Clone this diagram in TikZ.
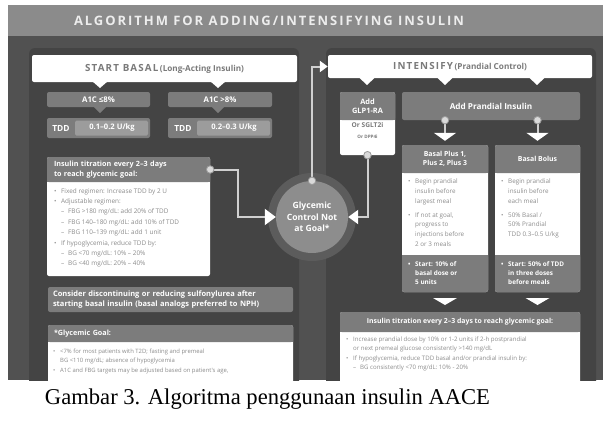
\documentclass[tikz,border=0pt]{standalone}
\usepackage{fontspec}
\setmainfont{Liberation Serif}
\newfontfamily\osans{Open Sans}
\newfontfamily\ospaced{Open Sans}[LetterSpace=15]
\newfontfamily\ospacedhead{Open Sans}[LetterSpace=12]
\usetikzlibrary{arrows.meta,calc}

\definecolor{figbg}{HTML}{515151}
\definecolor{panelbg}{HTML}{444444}
\definecolor{titlebar}{HTML}{8B8B8B}
\definecolor{titletxt}{HTML}{EDEDED}
\definecolor{boxgray}{HTML}{7C7C7C}
\definecolor{valgray}{HTML}{9C9C9C}
\definecolor{txtgray}{HTML}{8C8C8C}
\definecolor{headtxt}{HTML}{7A7A7A}
\definecolor{wirecol}{HTML}{D0D0D0}
\definecolor{dotfill}{HTML}{DADADA}
\definecolor{dotline}{HTML}{9A9A9A}
\definecolor{goalfill}{HTML}{8D8D8D}
\definecolor{goalhalo}{HTML}{5C5C5C}

% bullet helpers for the hand-set lists
\newcommand\bmark{\makebox[7pt][l]{•}}
\newcommand\hmark{\hspace*{7pt}}
\newcommand\smark{\hspace*{7pt}\makebox[7pt][l]{–}}

\begin{document}
\begin{tikzpicture}[x=1pt,y=-1pt,
  wbox/.style={fill=white, rounded corners=2pt, inner sep=0pt},
  gbox/.style={fill=boxgray, rounded corners=2pt, inner sep=0pt, text=white,
    font=\osans\bfseries\fontsize{7.2}{9.6}\selectfont, align=center},
  bodytxt/.style={text=txtgray, font=\osans\fontsize{6.3}{9.6}\selectfont,
    align=left, anchor=north west, inner sep=0pt},
  foottxt/.style={text=white, font=\osans\bfseries\fontsize{6.4}{9.2}\selectfont,
    align=left, anchor=north west, inner sep=0pt},
  wire/.style={draw=wirecol, line width=2pt},
  hub/.style={circle, fill=dotfill, draw=dotline, line width=0.8pt,
    minimum size=7.5pt, inner sep=0pt},
]
\useasboundingbox (0,0) rectangle (606,434);
\fill[white] (0,0) rectangle (606,434);

\begin{scope}
\clip (8,5) rectangle (603,380);
% backdrop, panels and title strip
\fill[figbg] (8,5) rectangle (603,380);
\fill[panelbg, rounded corners=6pt] (29,48) rectangle (299,400);
\fill[panelbg, rounded corners=6pt] (326,48) rectangle (596,400);
\fill[titlebar] (8,5) rectangle (603,36);
\node[text=titletxt, font=\ospaced\bfseries\fontsize{13}{15}\selectfont]
  (title) at (269,21) {ALGORITHM FOR ADDING/INTENSIFYING INSULIN};

% ---------------- START BASAL ----------------
\node[wbox, minimum width=265pt, minimum height=27pt, text=headtxt]
  (basal) at (164.5,68.5)
  {{\ospacedhead\bfseries\fontsize{9.8}{11}\selectfont START BASAL}\,{\osans\bfseries\fontsize{8.2}{10}\selectfont (Long-Acting Insulin)}};
\foreach \nx in {100,218}
  \fill[white] (\nx-8,81) -- (\nx+8,81) -- (\nx,88) -- cycle;

\node[gbox, minimum width=103pt, minimum height=15pt,
  font=\osans\bfseries\fontsize{7.8}{9}\selectfont] (a1clo) at (98.5,99.5) {A1C ≤8\%};
\node[gbox, minimum width=104pt, minimum height=15pt,
  font=\osans\bfseries\fontsize{7.8}{9}\selectfont] (a1chi) at (220,99.5) {A1C >8\%};
\foreach \nx in {100,218}
  \fill[boxgray] (\nx-7,106) -- (\nx+7,106) -- (\nx,113) -- cycle;

\node[gbox, minimum width=103pt, minimum height=20pt] (tddlo) at (98.5,128) {};
\fill[valgray, rounded corners=1.5pt] (75,120.5) rectangle (148,135.5);
\node[text=white, font=\osans\bfseries\fontsize{8.4}{10}\selectfont] (tddlolab) at (61,128) {TDD};
\node[text=white, font=\osans\bfseries\fontsize{7.6}{10}\selectfont] (tddloval) at (112,128) {0.1–0.2 U/kg};

\node[gbox, minimum width=104pt, minimum height=20pt] (tddhi) at (220,128) {};
\fill[valgray, rounded corners=1.5pt] (197,120.5) rectangle (270,135.5);
\node[text=white, font=\osans\bfseries\fontsize{8.4}{10}\selectfont] (tddhilab) at (183,128) {TDD};
\node[text=white, font=\osans\bfseries\fontsize{7.6}{10}\selectfont] (tddhival) at (234,128) {0.2–0.3 U/kg};

% titration card
\node[wbox, minimum width=163pt, minimum height=119pt] (titlbody) at (128.5,216.5) {};
\node[gbox, text width=149pt, inner xsep=7pt, minimum height=25pt, align=left]
  (titlhead) at (128.5,169.5) {Insulin titration every 2–3 days\\to reach glycemic goal:};
\fill[boxgray] (47,179) rectangle (210,182);
\node[bodytxt, font=\osans\fontsize{6.4}{10.4}\selectfont] (titltxt) at (54,188)
  {\bmark Fixed regimen: Increase TDD by 2 U\\
   \bmark Adjustable regimen:\\
   \smark FBG >180 mg/dL: add 20\% of TDD\\
   \smark FBG 140–180 mg/dL: add 10\% of TDD\\
   \smark FBG 110–139 mg/dL: add 1 unit\\
   \bmark If hypoglycemia, reduce TDD by:\\
   \smark BG <70 mg/dL: 10\% – 20\%\\
   \smark BG <40 mg/dL: 20\% – 40\%};

\node[gbox, text width=235pt, inner xsep=5pt, minimum height=25pt, align=left,
  font=\osans\bfseries\fontsize{7.5}{10}\selectfont] (sulfo) at (170.5,299.5)
  {Consider discontinuing or reducing sulfonylurea after\\starting basal insulin (basal analogs preferred to NPH)};

% glycemic goal card
\node[wbox, minimum width=245pt, minimum height=70pt] (gbody) at (170.5,360) {};
\node[gbox, text width=233pt, inner xsep=6pt, minimum height=17pt, align=left,
  font=\osans\bfseries\fontsize{7.2}{9}\selectfont] (ghead) at (170.5,333.5) {*Glycemic Goal:};
\fill[boxgray] (48,339) rectangle (293,342);
\node[bodytxt, font=\osans\fontsize{5.9}{8.8}\selectfont] (gtxt) at (53,349)
  {\bmark <7\% for most patients with T2D; fasting and premeal\\
   \hmark BG <110 mg/dL; absence of hypoglycemia\\[1.5pt]
   \bmark A1C and FBG targets may be adjusted based on patient's age,};

% ---------------- centre ----------------
\fill[goalhalo] (312,217) circle (44);
\node[circle, fill=goalfill, minimum size=72pt, inner sep=0pt, text=white,
  font=\osans\bfseries\fontsize{8.6}{11.5}\selectfont, align=center]
  (goal) at (312,217) {Glycemic\\Control Not\\at Goal*};

% ---------------- INTENSIFY ----------------
\node[wbox, minimum width=264pt, minimum height=23pt, text=headtxt]
  (intens) at (460,66.5)
  {{\ospacedhead\bfseries\fontsize{9.8}{11}\selectfont INTENSIFY}\,{\osans\bfseries\fontsize{8.2}{10}\selectfont (Prandial Control)}};
\foreach \nx in {367,445,537}
  \fill[white] (\nx-8,77.5) -- (\nx+8,77.5) -- (\nx,85) -- cycle;

% GLP1-RA card
\node[wbox, minimum width=55pt, minimum height=63pt] (glpb) at (367.5,123.5) {};
\node[gbox, minimum width=55pt, minimum height=28pt,
  font=\osans\bfseries\fontsize{7.4}{9.5}\selectfont] (glph) at (367.5,106) {Add\\GLP1-RA};
\fill[boxgray] (340,117) rectangle (395,120);
\node[text=headtxt, align=center, inner sep=0pt] (glptxt) at (367.5,131)
  {{\osans\bfseries\fontsize{6.6}{8}\selectfont Or SGLT2i}\\[-1pt]{\osans\bfseries\fontsize{4.6}{6}\selectfont Or DPP4i}};

% prandial insulin
\node[gbox, minimum width=178pt, minimum height=28pt,
  font=\osans\bfseries\fontsize{8.2}{10}\selectfont] (prand) at (491,106) {Add Prandial Insulin};

% Basal Plus column
\node[wbox, minimum width=86pt, minimum height=147pt] (bplusbox) at (445,218.5) {};
\node[gbox, minimum width=86pt, minimum height=28pt,
  font=\osans\bfseries\fontsize{6.9}{9.6}\selectfont] (bplus) at (445,159) {Basal Plus 1,\\Plus 2, Plus 3};
\fill[boxgray] (402,170) rectangle (488,173);
\fill[boxgray, rounded corners=2pt] (402,255) rectangle (488,292);
\fill[boxgray] (402,255) rectangle (488,259);
\node[bodytxt] (bplustxt) at (408,179)
  {\bmark Begin prandial\\ \hmark insulin before\\ \hmark largest meal\\[4.5pt]
   \bmark If not at goal,\\ \hmark progress to\\ \hmark injections before\\ \hmark 2 or 3 meals};
\node[foottxt] (bplusfoot) at (408,261)
  {\bmark Start: 10\% of\\ \hmark basal dose or\\ \hmark 5 units};

% Basal Bolus column
\node[wbox, minimum width=85pt, minimum height=147pt] (bbolusbox) at (537.5,218.5) {};
\node[gbox, minimum width=85pt, minimum height=28pt,
  font=\osans\bfseries\fontsize{6.9}{9.6}\selectfont] (bbolus) at (537.5,159) {Basal Bolus};
\fill[boxgray] (495,170) rectangle (580,173);
\fill[boxgray, rounded corners=2pt] (495,255) rectangle (580,292);
\fill[boxgray] (495,255) rectangle (580,259);
\node[bodytxt] (bbolustxt) at (501,179)
  {\bmark Begin prandial\\ \hmark insulin before\\ \hmark each meal\\[4.5pt]
   \bmark 50\% Basal /\\ \hmark 50\% Prandial\\ \hmark TDD 0.3–0.5 U/kg};
\node[foottxt] (bbolusfoot) at (501,261)
  {\bmark Start: 50\% of TDD\\ \hmark in three doses\\ \hmark before meals};

\foreach \nx in {445,537.5}
  \fill[white] (\nx-12,298) -- (\nx+12,298) -- (\nx,305) -- cycle;

% prandial titration card
\node[wbox, minimum width=240pt, minimum height=80pt] (rtitbody) at (460,352) {};
\node[gbox, minimum width=240pt, minimum height=20pt,
  font=\osans\bfseries\fontsize{6.9}{9}\selectfont] (rtithead) at (460,322)
  {Insulin titration every 2–3 days to reach glycemic goal:};
\fill[boxgray] (340,329) rectangle (580,332);
\node[bodytxt, font=\osans\fontsize{6.1}{8.4}\selectfont] (rtittxt) at (346,337)
  {\bmark Increase prandial dose by 10\% or 1-2 units if 2-h postprandial\\
   \hmark or next premeal glucose consistently >140 mg/dL\\[2pt]
   \bmark If hypoglycemia, reduce TDD basal and/or prandial insulin by:\\
   \smark BG consistently <70 mg/dL: 10\% - 20\%};

% ---------------- connectors ----------------
\coordinate (bendL) at (238,217);
\draw[wire, -{Triangle[width=16pt,length=11pt,color=white]}]
  (titlhead.east) -| (bendL) -- (goal.west);
\node[hub] (hubL) at (titlhead.east) {};

\draw[wire, -{Triangle[width=11pt,length=8pt,color=white]}]
  (goal.north) |- (intens.west);
\node[hub] (hubC) at (goal.north) {};

\draw[wire, -{Triangle[width=14pt,length=10pt,color=white]}]
  (glpb.south) |- (goal.east);
\node[hub] (hubG) at (glpb.south) {};

\draw[wire, shorten >=4pt, -{Triangle[width=22pt,length=8pt,color=white]}]
  (prand.south -| bplus.north) -- (bplus.north);
\node[hub] (hubP1) at (prand.south -| bplus.north) {};
\draw[wire, shorten >=4pt, -{Triangle[width=22pt,length=8pt,color=white]}]
  (prand.south -| bbolus.north) -- (bbolus.north);
\node[hub] (hubP2) at (prand.south -| bbolus.north) {};
\end{scope}

% caption
\node[font=\fontsize{22.6}{25}\selectfont, anchor=base, inner sep=0pt]
  (caption) at (267.5,404) {Gambar 3. Algoritma penggunaan insulin AACE};
\end{tikzpicture}
\end{document}
